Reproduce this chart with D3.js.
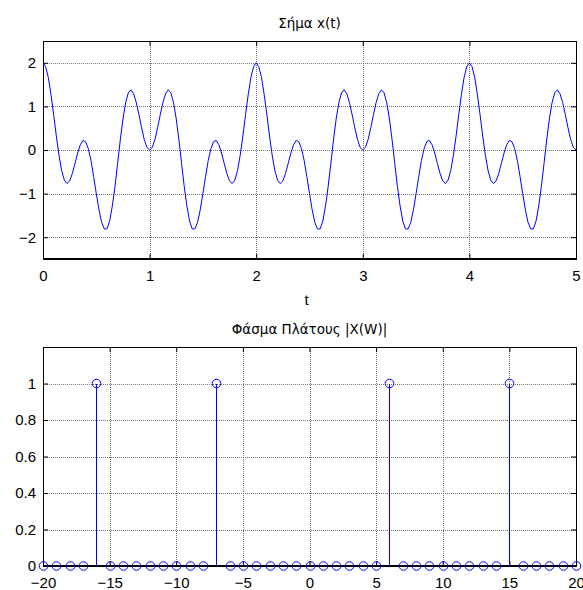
<!DOCTYPE html>
<html><head><meta charset="utf-8">
<script src="https://cdn.jsdelivr.net/npm/d3@7"></script>
<style>
body{margin:0;background:#fff;}
svg{display:block;font-family:"Liberation Sans",Arial,sans-serif;}
</style></head>
<body><svg id="c" width="583" height="590"></svg>
<script>
// ---------- DATA ----------
const signalTitle = "Σήμα x(t)";
const signalXLabel = "t";
const tStep = 0.025;
const tTicks = [0, 1, 2, 3, 4, 5];
const xTicksTop = [-2, -1, 0, 1, 2];
const signalValues = [
 2,1.91,1.66,1.27,0.81,0.32,-0.12,-0.47,-0.69,-0.77,-0.71,-0.54,-0.31,-0.07,0.12,0.22,0.19,0.03,-0.24,-0.61,
 -1,-1.37,-1.66,-1.81,-1.81,-1.63,-1.29,-0.84,-0.31,0.23,0.71,1.08,1.31,1.38,1.29,1.09,0.81,0.51,0.24,0.06,
 0,0.06,0.24,0.51,0.81,1.09,1.29,1.38,1.31,1.08,0.71,0.23,-0.31,-0.84,-1.29,-1.63,-1.81,-1.81,-1.66,-1.37,
 -1,-0.61,-0.24,0.03,0.19,0.22,0.12,-0.07,-0.31,-0.54,-0.71,-0.77,-0.69,-0.47,-0.12,0.32,0.81,1.27,1.66,1.91,
 2,1.91,1.66,1.27,0.81,0.32,-0.12,-0.47,-0.69,-0.77,-0.71,-0.54,-0.31,-0.07,0.12,0.22,0.19,0.03,-0.24,-0.61,
 -1,-1.37,-1.66,-1.81,-1.81,-1.63,-1.29,-0.84,-0.31,0.23,0.71,1.08,1.31,1.38,1.29,1.09,0.81,0.51,0.24,0.06,
 0,0.06,0.24,0.51,0.81,1.09,1.29,1.38,1.31,1.08,0.71,0.23,-0.31,-0.84,-1.29,-1.63,-1.81,-1.81,-1.66,-1.37,
 -1,-0.61,-0.24,0.03,0.19,0.22,0.12,-0.07,-0.31,-0.54,-0.71,-0.77,-0.69,-0.47,-0.12,0.32,0.81,1.27,1.66,1.91,
 2,1.91,1.66,1.27,0.81,0.32,-0.12,-0.47,-0.69,-0.77,-0.71,-0.54,-0.31,-0.07,0.12,0.22,0.19,0.03,-0.24,-0.61,
 -1,-1.37,-1.66,-1.81,-1.81,-1.63,-1.29,-0.84,-0.31,0.23,0.71,1.08,1.31,1.38,1.29,1.09,0.81,0.51,0.24,0.06,
 0
];

const spectrumTitle = "Φάσμα Πλάτους |X(W)|";
const freqW = [-20,-19,-18,-17,-16,-15,-14,-13,-12,-11,-10,-9,-8,-7,-6,-5,-4,-3,-2,-1,0,1,2,3,4,5,6,7,8,9,10,11,12,13,14,15,16,17,18,19,20];
const magnitude = [0,0,0,0,1,0,0,0,0,0,0,0,0,1,0,0,0,0,0,0,0,0,0,0,0,0,1,0,0,0,0,0,0,0,0,1,0,0,0,0,0];
const wTicks = [-20,-15,-10,-5,0,5,10,15,20];
const magTicks = [0,0.2,0.4,0.6,0.8,1];

// ---------- DRAW ----------
const svg = d3.select("#c");
const L = 43, R = 576;
const blue = "#0000ff";
const snap = v => Math.round(v) + 0.5;

function panel(opts){
  const g = svg.append("g");
  const x = d3.scaleLinear().domain(opts.xd).range([L, R]);
  const y = d3.scaleLinear().domain(opts.yd).range([opts.bottom, opts.top]);
  // grid
  const grid = g.append("g").attr("stroke","#666").attr("stroke-opacity",0.9)
    .attr("stroke-dasharray","1,1").attr("stroke-width",1);
  opts.xt.forEach(v=>{ const px=snap(x(v));
    grid.append("line").attr("x1",px).attr("x2",px).attr("y1",opts.top).attr("y2",opts.bottom);});
  opts.yt.forEach(v=>{ const py=snap(y(v));
    grid.append("line").attr("x1",L).attr("x2",R).attr("y1",py).attr("y2",py);});
  // axes
  const ax = d3.axisBottom(x).tickValues(opts.xt).tickSize(-5).tickPadding(11).tickFormat(d3.format("~g"));
  const ay = d3.axisLeft(y).tickValues(opts.yt).tickSize(-5).tickPadding(7).tickFormat(d3.format("~g"));
  const axT = d3.axisTop(x).tickValues(opts.xt).tickSize(-5).tickFormat("");
  const ayR = d3.axisRight(y).tickValues(opts.yt).tickSize(-5).tickFormat("");
  [[ax,`translate(0,${opts.bottom})`],[ay,`translate(${L},0)`],[axT,`translate(0,${opts.top})`],[ayR,`translate(${R},0)`]]
   .forEach(([a,t])=>{
     const gg=g.append("g").attr("transform",t).call(a);
     gg.select(".domain").remove();
     gg.selectAll("text").attr("font-size",15).attr("fill","#000")
       .attr("font-family","Liberation Sans, Arial, sans-serif");
     gg.selectAll("line").attr("stroke","#000");
   });
  g.append("rect").attr("x",L+0.5).attr("y",opts.top+0.5).attr("width",R-L).attr("height",opts.bottom-opts.top)
   .attr("fill","none").attr("stroke","#000").attr("stroke-width",1);
  g.append("line").attr("x1",L).attr("x2",R+1).attr("y1",opts.bottom).attr("y2",opts.bottom)
   .attr("stroke","#000").attr("stroke-width",2);
  // title
  svg.append("text").attr("x",(L+R)/2).attr("y",opts.top-13).attr("text-anchor","middle")
    .attr("font-family","DejaVu Sans, Verdana, sans-serif").attr("font-size",13.5).text(opts.title);
  return {g,x,y};
}

// top panel
const p1 = panel({xd:[0,5], yd:[-2.5,2.5], top:41, bottom:259, xt:tTicks, yt:xTicksTop, title:signalTitle});
const line = d3.line().x((d,i)=>p1.x(i*tStep)).y(d=>p1.y(d));
p1.g.append("path").datum(signalValues).attr("d",line).attr("fill","none")
  .attr("stroke",blue).attr("stroke-width",1);
svg.append("text").attr("x",(L+R)/2-3).attr("y",305).attr("text-anchor","middle").attr("font-size",15).text(signalXLabel);

// bottom panel
const p2 = panel({xd:[-20,20], yd:[0,1.2], top:347, bottom:566, xt:wTicks, yt:magTicks, title:spectrumTitle});
p2.g.append("line").attr("x1",L).attr("x2",R+1).attr("y1",p2.y(0)).attr("y2",p2.y(0))
  .attr("stroke","#000").attr("stroke-width",2);
const stems = svg.append("g");
stems.selectAll("line.stem").data(freqW).join("line").attr("class","stem")
  .attr("x1",w=>snap(p2.x(w))).attr("x2",w=>snap(p2.x(w)))
  .attr("y1",p2.y(0)).attr("y2",(w,i)=>p2.y(magnitude[i]))
  .style("stroke",blue).style("stroke-width","1px").style("shape-rendering","crispEdges");
stems.selectAll("circle").data(freqW).join("circle")
  .attr("cx",w=>snap(p2.x(w))).attr("cy",(w,i)=>p2.y(magnitude[i])).attr("r",4.3)
  .style("fill","none").style("stroke",blue).style("stroke-width","1px");
</script></body></html>
